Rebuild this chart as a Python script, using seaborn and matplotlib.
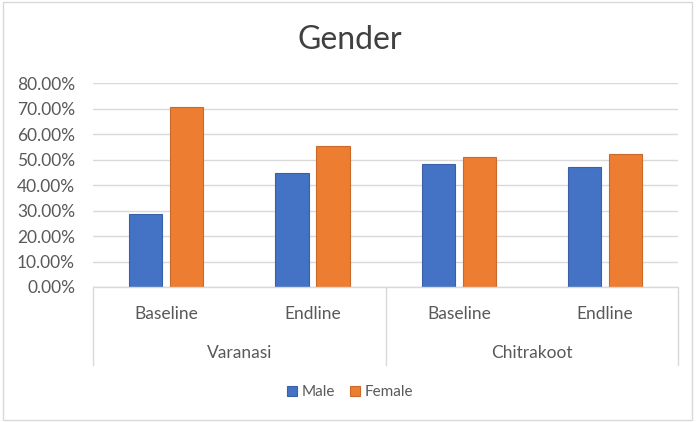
import matplotlib
matplotlib.use("Agg")
import matplotlib.pyplot as plt
import pandas as pd
import seaborn as sns

# data
districts = ["Varanasi", "Chitrakoot"]
rounds = ["Baseline", "Endline"]
male = [0.288, 0.446, 0.482, 0.472]
female = [0.705, 0.552, 0.511, 0.522]
yticks = [0.0, 0.1, 0.2, 0.3, 0.4, 0.5, 0.6, 0.7, 0.8]

cats = [f"{d} {r}" for d in districts for r in rounds]
df = pd.DataFrame({
    "cat": cats * 2,
    "gender": ["Male"] * 4 + ["Female"] * 4,
    "share": male + female,
})

sns.set_style("white")
plt.rcParams["font.family"] = ["Lato", "DejaVu Sans"]
text_col = "#595959"
line_col = "#d9d9d9"

fig = plt.figure(figsize=(7, 4.22), dpi=100)
ax = fig.add_axes([0.133, 0.320, 0.836, 0.4826])

sns.barplot(data=df, x="cat", y="share", hue="gender",
            palette={"Male": "#4472c4", "Female": "#ed7d31"}, saturation=1,
            width=0.56, gap=0.19, ax=ax, legend=True)

# slightly darker outline like the source
for bar in ax.patches:
    fc = bar.get_facecolor()
    bar.set_edgecolor(tuple(c * 0.85 for c in fc[:3]))
    bar.set_linewidth(0.8)

ax.set_ylim(0, 0.8)
ax.set_xlim(-0.5, 3.5)
ax.set_yticks(yticks)
ax.set_yticklabels([f"{v * 100:.2f}%" for v in yticks], color=text_col, fontsize=12.5)
ax.tick_params(axis="y", length=0, pad=13)
ax.set_xticks([])
ax.set_xlabel("")
ax.set_ylabel("")
ax.yaxis.grid(True, color=line_col, linewidth=1)
ax.set_axisbelow(True)
for s in ax.spines.values():
    s.set_visible(False)

# multi-level category box below the plot
tr = ax.get_xaxis_transform()
box_kw = dict(color=line_col, linewidth=1, clip_on=False, transform=tr)
ax.plot([-0.5, 3.5], [0, 0], **box_kw)
for xv in [-0.5, 1.5, 3.5]:
    ax.plot([xv, xv], [0, -0.385], **box_kw)
for i, c in enumerate(cats):
    ax.text(i, -0.133, c.split()[1], transform=tr, ha="center", va="center",
            fontsize=12.5, color=text_col)
for j, d in enumerate(districts):
    ax.text(0.5 + 2 * j, -0.325, d, transform=tr, ha="center", va="center",
            fontsize=12.5, color=text_col)

fig.text(0.5, 0.905, "Gender", ha="center", va="center", fontsize=23, color="#404040")

leg = ax.legend(loc="center", bbox_to_anchor=(0.5, 0.07), bbox_transform=fig.transFigure,
                ncol=2, frameon=False, fontsize=11, handlelength=0.65, handleheight=0.65,
                handletextpad=0.3, columnspacing=1.0)
for t in leg.get_texts():
    t.set_color(text_col)

# chart border
fig.patches.append(plt.Rectangle((0.004, 0.005), 0.985, 0.99, transform=fig.transFigure,
                                 fill=False, edgecolor=line_col, linewidth=1))

fig.savefig("out.png", dpi=100)
